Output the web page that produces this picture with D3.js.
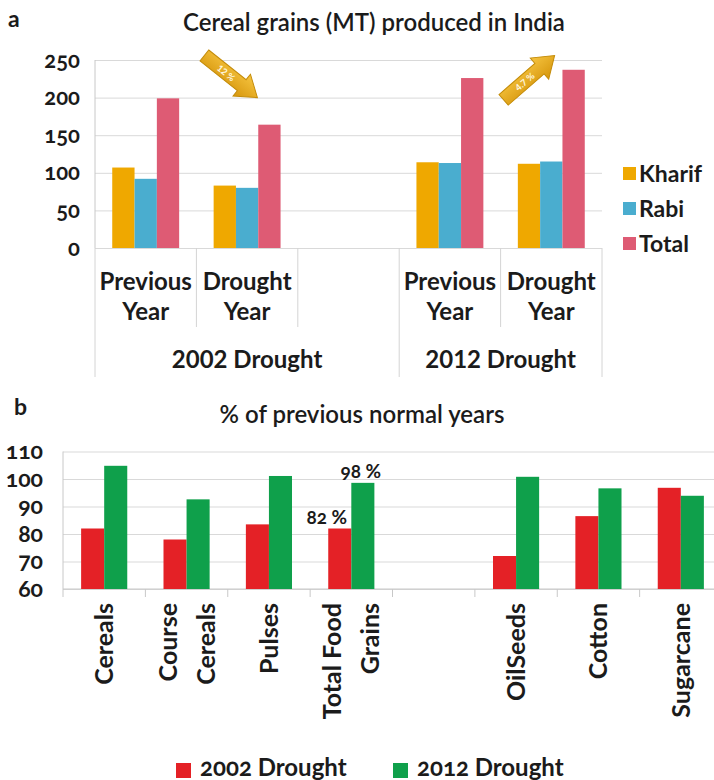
<!DOCTYPE html>
<html>
<head>
<meta charset="utf-8">
<script src="https://cdn.jsdelivr.net/npm/d3@7"></script>
<style>
  body { margin: 0; background: #fff; }
  svg text { font-family: Lato, "Open Sans", sans-serif; fill: #1b1b1b; }
  .num { font-variant-numeric: oldstyle-nums; }
</style>
</head>
<body>
<svg id="chart"></svg>
<script>
// ---- panel a: cereal grains (MT)
const catsA = ["p2002", "d2002", "gap", "p2012", "d2012"];
const catLabelsA = [["Previous", "Year"], ["Drought", "Year"], [], ["Previous", "Year"], ["Drought", "Year"]];
const groupsA = ["2002 Drought", "2012 Drought"];
const seriesA = ["Kharif", "Rabi", "Total"];
const kharif = [107, 83, null, 114, 112];
const rabi = [92, 80, null, 113, 115];
const total = [199, 164, null, 226, 237];
const ticksA = [0, 50, 100, 150, 200, 250];
const arrowLabels = ["12 %", "4.7 %"];

// ---- panel b: % of previous normal years
const catsB = ["Cereals", "Course Cereals", "Pulses", "Total Food Grains", "", "OilSeeds", "Cotton", "Sugarcane"];
const catLinesB = [["Cereals"], ["Course", "Cereals"], ["Pulses"], ["Total Food", "Grains"], [], ["OilSeeds"], ["Cotton"], ["Sugarcane"]];
const seriesB = ["2002 Drought", "2012 Drought"];
const drought2002 = [82, 78, 83.5, 82, null, 72, 86.5, 96.8];
const drought2012 = [104.8, 92.6, 101.1, 98.6, null, 100.8, 96.6, 93.9];
const ticksB = [60, 70, 80, 90, 100, 110];
const notesB = [["Total Food Grains", 0, "82 %"], ["Total Food Grains", 1, "98 %"]];

const colorsA = ["#EFA800", "#4AADCF", "#DE5B74"];
const colorsB = ["#E42126", "#0FA04B"];
const grid = "#d9d9d9";

const svg = d3.select("#chart").attr("width", 714).attr("height", 780);

const defs = svg.append("defs");
const grad = defs.append("linearGradient").attr("id", "gold")
  .attr("x1", 0).attr("y1", 0).attr("x2", 0).attr("y2", 1);
grad.append("stop").attr("offset", "0%").attr("stop-color", "#f6c440");
grad.append("stop").attr("offset", "100%").attr("stop-color", "#d6960c");

// ================= panel a =================
const xA = d3.scaleBand().domain(catsA).range([95, 602]).paddingInner(0.34).paddingOuter(0.17);
const yA = d3.scaleLinear().domain([0, 250]).range([248, 60]);
const x1A = d3.scaleBand().domain(seriesA).range([0, xA.bandwidth()]);
const stepA = xA.step();
const edgeA = i => 95 + i * stepA;

svg.append("text").attr("x", 8).attr("y", 27).attr("font-size", 23).attr("font-weight", 700).text("a");
svg.append("text").attr("x", 374).attr("y", 31).attr("text-anchor", "middle")
  .attr("font-size", 24).attr("font-weight", 600).text("Cereal grains (MT) produced in India");

const gA = svg.append("g");
gA.append("g").attr("transform", "translate(95,0)")
  .call(d3.axisLeft(yA).tickValues(ticksA).tickSize(-(602 - 95)).tickPadding(15))
  .call(g => g.select(".domain").remove())
  .call(g => g.selectAll(".tick line").attr("stroke", grid))
  .call(g => g.selectAll(".tick text").attr("class", "num").attr("font-size", 22)
    .attr("font-weight", 700).attr("font-family", null).style("fill", "#1b1b1b"));

// left axis and category separators
gA.append("line").attr("x1", 95).attr("x2", 95).attr("y1", yA(250)).attr("y2", yA(0)).attr("stroke", "#c8c8c8");
catsA.concat(["end"]).forEach((c, i) => {
  const long = i === 0 || i === 3 || i === 5;
  gA.append("line").attr("x1", edgeA(i)).attr("x2", edgeA(i))
    .attr("y1", yA(0)).attr("y2", long ? 377 : 327).attr("stroke", "#d4d4d4");
});

const rowsA = catsA.map((c, i) => ({ cat: c, vals: [kharif[i], rabi[i], total[i]] }));
gA.selectAll(".grp").data(rowsA).enter().append("g")
  .attr("transform", d => `translate(${xA(d.cat)},0)`)
  .selectAll("rect").data(d => d.vals.map((v, j) => ({ v, s: seriesA[j], j })).filter(e => e.v !== null))
  .enter().append("rect")
  .attr("x", e => x1A(e.s)).attr("width", x1A.bandwidth())
  .attr("y", e => yA(e.v)).attr("height", e => yA(0) - yA(e.v))
  .attr("fill", e => colorsA[e.j]);

// category labels
catsA.forEach((c, i) => {
  const cx = xA(c) + xA.bandwidth() / 2;
  catLabelsA[i].forEach((t, k) => {
    gA.append("text").attr("x", cx).attr("y", 290 + k * 30).attr("text-anchor", "middle")
      .attr("font-size", 24).attr("font-weight", 700).text(t);
  });
});
groupsA.forEach((g, i) => {
  const cx = i === 0 ? (edgeA(0) + edgeA(3)) / 2 : (edgeA(3) + edgeA(5)) / 2;
  gA.append("text").attr("x", cx).attr("y", 368).attr("text-anchor", "middle")
    .attr("font-size", 24).attr("font-weight", 700).text(g);
});

// legend a
seriesA.forEach((s, i) => {
  const cy = 174 + i * 35;
  gA.append("rect").attr("x", 623).attr("y", cy - 7).attr("width", 13).attr("height", 13).attr("fill", colorsA[i]);
  gA.append("text").attr("x", 639).attr("y", cy + 8).attr("font-size", 23).attr("font-weight", 700).text(s);
});

// change arrows
function blockArrow(x1, y1, x2, y2, label) {
  const L = Math.hypot(x2 - x1, y2 - y1);
  const ang = Math.atan2(y2 - y1, x2 - x1) * 180 / Math.PI;
  const sw = 7, hw = 14, hl = 20;
  const pts = [[0, -sw], [L - hl, -sw], [L - hl, -hw], [L, 0], [L - hl, hw], [L - hl, sw], [0, sw]];
  const a = gA.append("g").attr("transform", `translate(${x1},${y1}) rotate(${ang})`);
  a.append("path").attr("d", d3.line()(pts) + "Z").attr("fill", "url(#gold)")
    .attr("stroke", "#c48c0a").attr("stroke-width", 1);
  a.append("text").attr("x", (L - hl) / 2 + 4).attr("y", 3.5).attr("text-anchor", "middle")
    .attr("font-size", 9).attr("font-weight", 700).style("fill", "#fff8e0").text(label);
}
blockArrow(edgeA(1) + 8, yA(256), edgeA(1) + 61, yA(200), arrowLabels[0]);
blockArrow(edgeA(4) + 3, yA(197), edgeA(4) + 54, yA(256), arrowLabels[1]);

// ================= panel b =================
const xB = d3.scaleBand().domain(catsB).range([63, 722]).paddingInner(0.44).paddingOuter(0.22);
const yB = d3.scaleLinear().domain([60, 110]).range([589, 451.5]);
const x1B = d3.scaleBand().domain(seriesB).range([0, xB.bandwidth()]);
const stepB = xB.step();

svg.append("text").attr("x", 14).attr("y", 415).attr("font-size", 23).attr("font-weight", 700).text("b");
svg.append("text").attr("x", 362).attr("y", 423).attr("text-anchor", "middle")
  .attr("font-size", 24).attr("font-weight", 600).text("% of previous normal years");

const gB = svg.append("g");
gB.append("g").attr("transform", "translate(63,0)")
  .call(d3.axisLeft(yB).tickValues(ticksB).tickSize(-(722 - 63)).tickPadding(20))
  .call(g => g.select(".domain").remove())
  .call(g => g.selectAll(".tick line").attr("stroke", grid))
  .call(g => g.selectAll(".tick text").attr("class", "num").attr("font-size", 23)
    .attr("font-weight", 700).attr("font-family", null).style("fill", "#1b1b1b"));

gB.append("line").attr("x1", 63).attr("x2", 63).attr("y1", yB(110)).attr("y2", yB(60)).attr("stroke", "#c8c8c8");
gB.append("line").attr("x1", 63).attr("x2", 722).attr("y1", yB(60)).attr("y2", yB(60)).attr("stroke", "#c8c8c8");
catsB.forEach((c, i) => {
  const x = 63 + i * stepB;
  gB.append("line").attr("x1", x).attr("x2", x).attr("y1", yB(60)).attr("y2", yB(60) + 8).attr("stroke", "#c8c8c8");
});

const rowsB = catsB.map((c, i) => ({ cat: c, vals: [drought2002[i], drought2012[i]] }));
gB.selectAll(".grp").data(rowsB).enter().append("g")
  .attr("transform", d => `translate(${xB(d.cat)},0)`)
  .selectAll("rect").data(d => d.vals.map((v, j) => ({ v, s: seriesB[j], j })).filter(e => e.v !== null))
  .enter().append("rect")
  .attr("x", e => x1B(e.s)).attr("width", x1B.bandwidth())
  .attr("y", e => yB(e.v)).attr("height", e => yB(60) - yB(e.v))
  .attr("fill", e => colorsB[e.j]);

// value notes
notesB.forEach(([cat, j, t]) => {
  const i = catsB.indexOf(cat);
  const vals = [drought2002[i], drought2012[i]];
  const cx = xB(cat) + x1B(seriesB[j]) + x1B.bandwidth() / 2 + (j === 0 ? -13 : -2);
  gB.append("text").attr("class", "num").attr("x", cx).attr("y", yB(vals[j]) - 5)
    .attr("text-anchor", "middle").attr("font-size", 19).attr("font-weight", 700).text(t);
});

// rotated category labels
catsB.forEach((c, i) => {
  const lines = catLinesB[i];
  const cx = xB(c) + xB.bandwidth() / 2;
  lines.forEach((t, k) => {
    const off = (k - (lines.length - 1) / 2) * 38;
    gB.append("text").attr("transform", `translate(${cx + off + 9},603) rotate(-90)`)
      .attr("text-anchor", "end").attr("font-size", 25).attr("font-weight", 700).text(t);
  });
});

// legend b
seriesB.forEach((s, i) => {
  const x = i === 0 ? 176 : 393;
  gB.append("rect").attr("x", x).attr("y", 763).attr("width", 15).attr("height", 15).attr("fill", colorsB[i]);
  gB.append("text").attr("class", "num").attr("x", x + 24).attr("y", 776)
    .attr("font-size", 24).attr("font-weight", 700).text(s);
});
</script>
</body>
</html>
